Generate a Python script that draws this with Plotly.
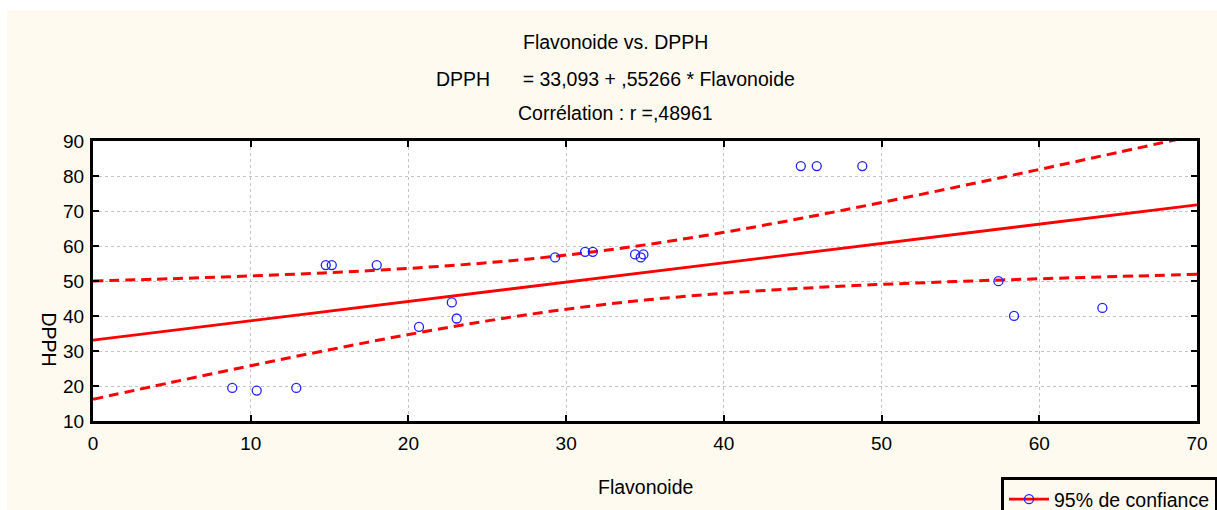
import numpy as np
import plotly.graph_objects as go

# ---- data ----
flavonoide = [8.83, 10.38, 12.89, 14.76, 15.14, 17.99, 20.67, 22.75, 23.06, 29.30,
              31.20, 31.69, 34.37, 34.73, 34.90, 44.88, 45.89, 48.78, 57.41, 58.40, 64.00]
dpph = [19.44, 18.70, 19.44, 54.54, 54.54, 54.54, 36.89, 43.87, 39.29, 56.74,
        58.34, 58.34, 57.60, 56.74, 57.60, 82.85, 82.85, 82.85, 49.96, 40.03, 42.32]

# regression from the chart title
intercept = 33.093
slope = 0.55266

# 95% confidence band
band_x = [0, 5, 10, 15, 20, 25, 30, 35, 40, 45, 50, 55, 60, 65, 70]
band_upper = [49.98, 50.66, 51.44, 52.39, 53.60, 55.21, 57.40, 60.32, 63.90, 67.99,
              72.43, 77.08, 81.86, 86.75, 91.70]
band_lower = [16.20, 21.06, 25.80, 30.37, 34.70, 38.61, 41.94, 44.56, 46.50, 47.93,
              49.03, 49.90, 50.64, 51.29, 51.90]

x_ticks = [0, 10, 20, 30, 40, 50, 60, 70]
y_ticks = [10, 20, 30, 40, 50, 60, 70, 80, 90]

title_lines = ["Flavonoide vs. DPPH",
               "DPPH\u00a0\u00a0\u00a0\u00a0\u00a0 = 33,093 + ,55266 * Flavonoide",
               "Corrélation : r =,48961"]

# ---- layout constants ----
W, H = 1217, 510
ML, MR, MT, MB = 93, 20, 141, 89
PW, PH = W - ML - MR, H - MT - MB
CREAM = "#fffaf0"
FONT = "Liberation Sans, Arial, sans-serif"


def px(xpix):
    return (xpix - ML) / PW


def py(ypix):
    return (H - MB - ypix) / PH


red = "#ff0000"
blue = "#2020ff"

fig = go.Figure()

line_x = np.array([x_ticks[0], x_ticks[-1]], dtype=float)
fig.add_trace(go.Scatter(x=line_x, y=intercept + slope * line_x, mode="lines",
                         line=dict(color=red, width=2.8), showlegend=False,
                         hoverinfo="skip"))
fig.add_trace(go.Scatter(x=band_x, y=band_upper, mode="lines", line_shape="spline",
                         line=dict(color=red, width=3, dash="10px,6px"),
                         showlegend=False))
fig.add_trace(go.Scatter(x=band_x, y=band_lower, mode="lines", line_shape="spline",
                         line=dict(color=red, width=3, dash="10px,6px"),
                         showlegend=False))
fig.add_trace(go.Scatter(x=flavonoide, y=dpph, mode="markers",
                         marker=dict(symbol="circle-open", size=9, color=blue,
                                     line=dict(width=1.3, color=blue)),
                         showlegend=False))
# legend entry
fig.add_trace(go.Scatter(x=[None], y=[None], mode="lines+markers",
                         name="95% de confiance",
                         line=dict(color=red, width=2.8),
                         marker=dict(symbol="circle-open", size=9, color=blue,
                                     line=dict(width=1.3, color=blue))))

annotations = []
for txt, yp in zip(title_lines, [42.5, 79, 113.5]):
    annotations.append(dict(text=txt, xref="paper", yref="paper", x=px(615), y=py(yp),
                            xanchor="center", yanchor="middle", showarrow=False,
                            font=dict(family=FONT, size=19.5, color="black")))
annotations.append(dict(text="Flavonoide", xref="paper", yref="paper", x=px(645), y=py(487),
                        xanchor="center", yanchor="middle", showarrow=False,
                        font=dict(family=FONT, size=19.5, color="black")))
annotations.append(dict(text="DPPH", xref="paper", yref="paper", x=px(49), y=py(339.5),
                        xanchor="center", yanchor="middle", showarrow=False, textangle=90,
                        font=dict(family=FONT, size=19.5, color="black")))

shapes = [
    dict(type="rect", xref="paper", yref="paper", x0=px(0), x1=px(W), y0=py(10), y1=py(0),
         fillcolor="white", line=dict(width=0), layer="below"),
    dict(type="rect", xref="paper", yref="paper", x0=px(0), x1=px(7), y0=py(H), y1=py(0),
         fillcolor="white", line=dict(width=0), layer="below"),
]

axis_common = dict(showline=True, linewidth=3, linecolor="black", mirror="ticks",
                   ticks="inside", ticklen=6, tickwidth=2, tickcolor="black",
                   showgrid=True, gridcolor="#c4c4c4", gridwidth=1, griddash="3px,3px",
                   zeroline=False, tickfont=dict(family=FONT, size=19, color="black"))

fig.update_layout(
    width=W, height=H,
    margin=dict(l=ML, r=MR, t=MT, b=MB, autoexpand=False),
    paper_bgcolor=CREAM, plot_bgcolor="white",
    xaxis=dict(range=[0, 70], tickvals=x_ticks, ticklabelstandoff=3, **axis_common),
    yaxis=dict(range=[10, 90], tickvals=y_ticks, ticklabelstandoff=2, **axis_common),
    annotations=annotations, shapes=shapes,
    showlegend=True,
    legend=dict(x=px(1001), y=py(477), xanchor="left", yanchor="top",
                bgcolor=CREAM, bordercolor="black", borderwidth=3,
                itemwidth=40, entrywidth=240,
                font=dict(family=FONT, size=19.5, color="black")),
    font=dict(family=FONT, color="black"),
)

fig.write_html("out.html")
